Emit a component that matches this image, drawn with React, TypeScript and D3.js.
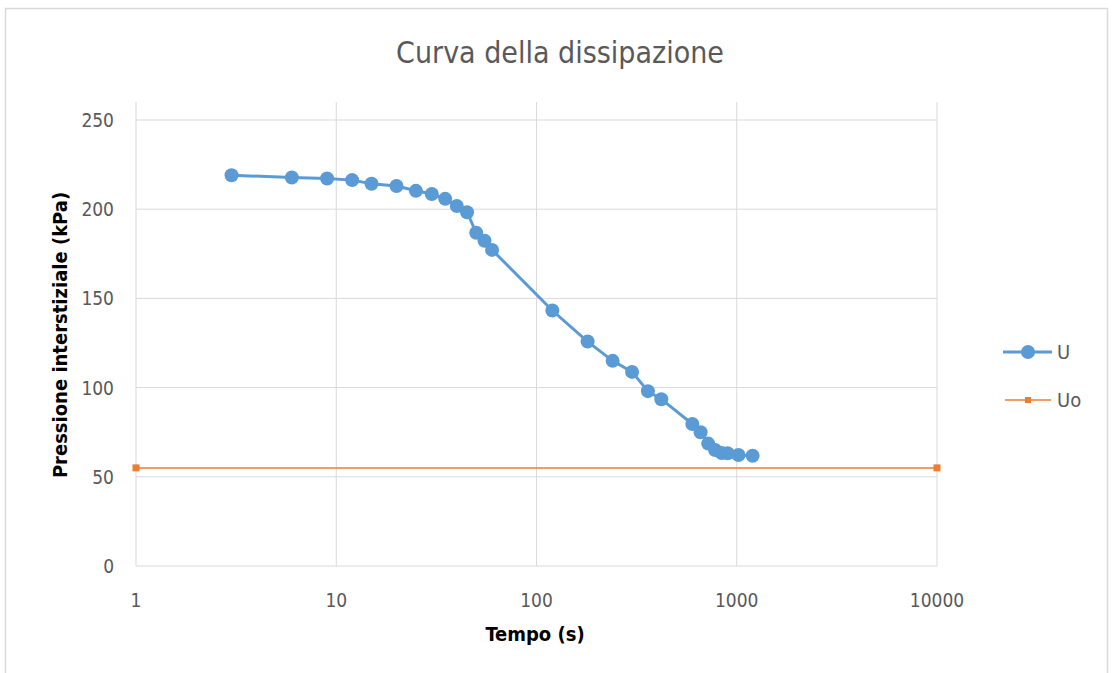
import React from "react";
import * as d3 from "d3";

const tempo = [3, 6, 9, 12, 15, 20, 25, 30, 35, 40, 45, 50, 55, 60, 120, 180, 240, 300, 360, 420, 600, 660, 720, 780, 840, 900, 1020, 1200];
const pressione = [219, 217.8, 217.2, 216.3, 214.3, 213, 210.3, 208.5, 205.8, 201.8, 198.3, 186.8, 182.3, 177.2, 143.2, 125.8, 115, 108.8, 98, 93.5, 79.6, 75, 68.6, 65, 63.3, 63.2, 62.2, 61.8];
const uoTempo = [1, 10000];
const uoValues = [55, 55];
const xTicks = [1, 10, 100, 1000, 10000];
const yTicks = [0, 50, 100, 150, 200, 250];

const W = 1117, H = 673;
const left = 136, right = 937, top = 120, bottom = 566;

export default function App() {
  const x = d3.scaleLog().domain([1, 10000]).range([left, right]);
  const y = d3.scaleLinear().domain([0, 250]).range([bottom, top]);
  const pts = tempo.map((t, i) => [t, pressione[i]] as [number, number]);
  const line = d3.line<[number, number]>().x(d => x(d[0])).y(d => y(d[1]));
  const uoPts = uoTempo.map((t, i) => [t, uoValues[i]] as [number, number]);
  const blue = "#5B9BD5", orange = "#ED7D31";
  const font = "'DejaVu Sans Condensed', 'Open Sans', sans-serif";
  return (
    <svg width={W} height={H} style={{ position: "absolute", left: 0, top: 0 }} fontFamily={font}>
      <rect x={0} y={0} width={W} height={H} fill="#fff" />
      <rect x={5.5} y={8.5} width={1102} height={700} fill="none" stroke="#D9D9D9" strokeWidth={1.5} />
      <text x={560} y={63} textAnchor="middle" fontSize={30} fill="#595959">Curva della dissipazione</text>
      {yTicks.map(t => (
        <g key={"y" + t}>
          <line x1={left} x2={right} y1={y(t)} y2={y(t)} stroke="#D9D9D9" strokeWidth={1} />
          <text x={114} y={y(t) + 7} textAnchor="end" fontSize={19} fill="#595959">{t}</text>
        </g>
      ))}
      {xTicks.map(t => (
        <g key={"x" + t}>
          <line x1={x(t)} x2={x(t)} y1={top - 18} y2={bottom} stroke="#D9D9D9" strokeWidth={1} />
          <text x={x(t)} y={607} textAnchor="middle" fontSize={19} fill="#595959">{t}</text>
        </g>
      ))}
      <text x={535} y={641} textAnchor="middle" fontSize={20} fontWeight="bold" fill="#000">Tempo (s)</text>
      <text transform={`translate(67,335) rotate(-90)`} textAnchor="middle" fontSize={20} fontWeight="bold" fill="#000">Pressione interstiziale (kPa)</text>
      <path d={line(uoPts) || ""} fill="none" stroke={orange} strokeWidth={1.5} />
      {uoPts.map((d, i) => (
        <rect key={"uo" + i} x={x(d[0]) - 3.5} y={y(d[1]) - 3.5} width={7} height={7} fill={orange} />
      ))}
      <path d={line(pts) || ""} fill="none" stroke={blue} strokeWidth={3} />
      {pts.map((d, i) => (
        <circle key={"u" + i} cx={x(d[0])} cy={y(d[1])} r={7} fill={blue} />
      ))}
      <line x1={1003} x2={1052} y1={352} y2={352} stroke={blue} strokeWidth={3} />
      <circle cx={1028} cy={352} r={7} fill={blue} />
      <text x={1057} y={359} fontSize={20} fill="#595959">U</text>
      <line x1={1005} x2={1051} y1={400} y2={400} stroke={orange} strokeWidth={1.5} />
      <rect x={1025} y={397} width={6} height={6} fill={orange} />
      <text x={1057} y={407} fontSize={20} fill="#595959">Uo</text>
    </svg>
  );
}
